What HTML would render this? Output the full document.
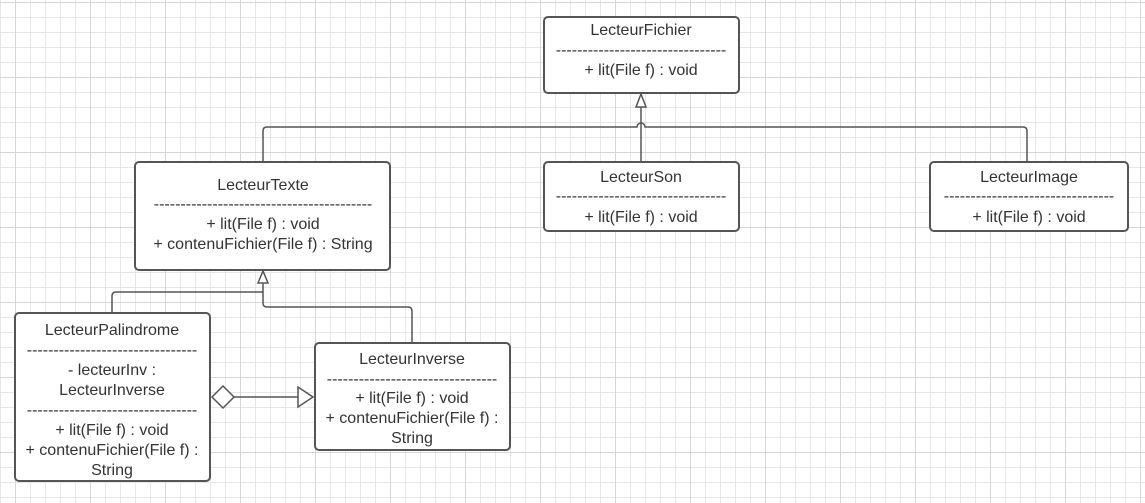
<!DOCTYPE html>
<html><head><meta charset="utf-8"><style>
html,body{margin:0;padding:0;background:#fff}
svg{display:block}
text{font-family:"Liberation Sans",sans-serif;font-size:16px;fill:#333;text-anchor:middle}
</style></head><body>
<svg width="1145" height="503" xmlns="http://www.w3.org/2000/svg">
<defs>
<pattern id="g" x="0" y="2" width="15" height="15" patternUnits="userSpaceOnUse">
<path d="M0 0.5H15M0.5 0V15" stroke="#e6e6e6" stroke-width="1" fill="none"/>
</pattern>
<pattern id="G" x="15" y="2" width="75" height="75" patternUnits="userSpaceOnUse">
<path d="M0 0.5H75M0.5 0V75" stroke="#d6d6d6" stroke-width="1" fill="none"/>
</pattern>
</defs>
<rect width="1145" height="503" fill="url(#g)"/>
<rect width="1145" height="503" fill="url(#G)"/>
<g stroke="#555" stroke-width="1.5" fill="none">
<path d="M263 162V131Q263 127 267 127H637A4 4 0 0 1 645 127H1023Q1027 127 1027 131V162"/>
<path d="M641 107V162"/>
<path d="M636 107H646L641 94Z" fill="#fff"/>
<path d="M112 313V296Q112 292 116 292H263V283M263 283V303Q263 307 267 307H408Q412 307 412 311V343"/>
<path d="M258 283H268L263 271Z" fill="#fff"/>
<path d="M234 397H298"/>
<path d="M212 397L223 386L234 397L223 408Z" fill="#fff"/>
<path d="M298 387V407L313 397Z" fill="#fff"/>
</g>
<g stroke="#555" stroke-width="2" fill="#fff">
<rect x="544" y="17" width="195" height="76" rx="4"/>
<rect x="135" y="162" width="255" height="108" rx="4"/>
<rect x="544" y="162" width="195" height="69" rx="4"/>
<rect x="930" y="162" width="198" height="69" rx="4"/>
<rect x="15" y="313" width="195" height="168" rx="4"/>
<rect x="315" y="343" width="195" height="107" rx="4"/>
</g>
<text x="641" y="35">LecteurFichier</text>
<text x="641" y="55">--------------------------------</text>
<text x="641" y="75">+ lit(File f) : void</text>

<text x="263" y="190">LecteurTexte</text>
<text x="263" y="209">-----------------------------------------</text>
<text x="263" y="229">+ lit(File f) : void</text>
<text x="263" y="249">+ contenuFichier(File f) : String</text>

<text x="641" y="182">LecteurSon</text>
<text x="641" y="201">--------------------------------</text>
<text x="641" y="222">+ lit(File f) : void</text>

<text x="1029" y="182">LecteurImage</text>
<text x="1029" y="201">--------------------------------</text>
<text x="1029" y="222">+ lit(File f) : void</text>

<text x="112" y="335">LecteurPalindrome</text>
<text x="112" y="355">--------------------------------</text>
<text x="112" y="375">- lecteurInv :</text>
<text x="112" y="395">LecteurInverse</text>
<text x="112" y="415">--------------------------------</text>
<text x="112" y="435">+ lit(File f) : void</text>
<text x="112" y="455">+ contenuFichier(File f) :</text>
<text x="112" y="475">String</text>

<text x="412" y="364">LecteurInverse</text>
<text x="412" y="384">--------------------------------</text>
<text x="412" y="403">+ lit(File f) : void</text>
<text x="412" y="423">+ contenuFichier(File f) :</text>
<text x="412" y="443">String</text>
</svg>
</body></html>
